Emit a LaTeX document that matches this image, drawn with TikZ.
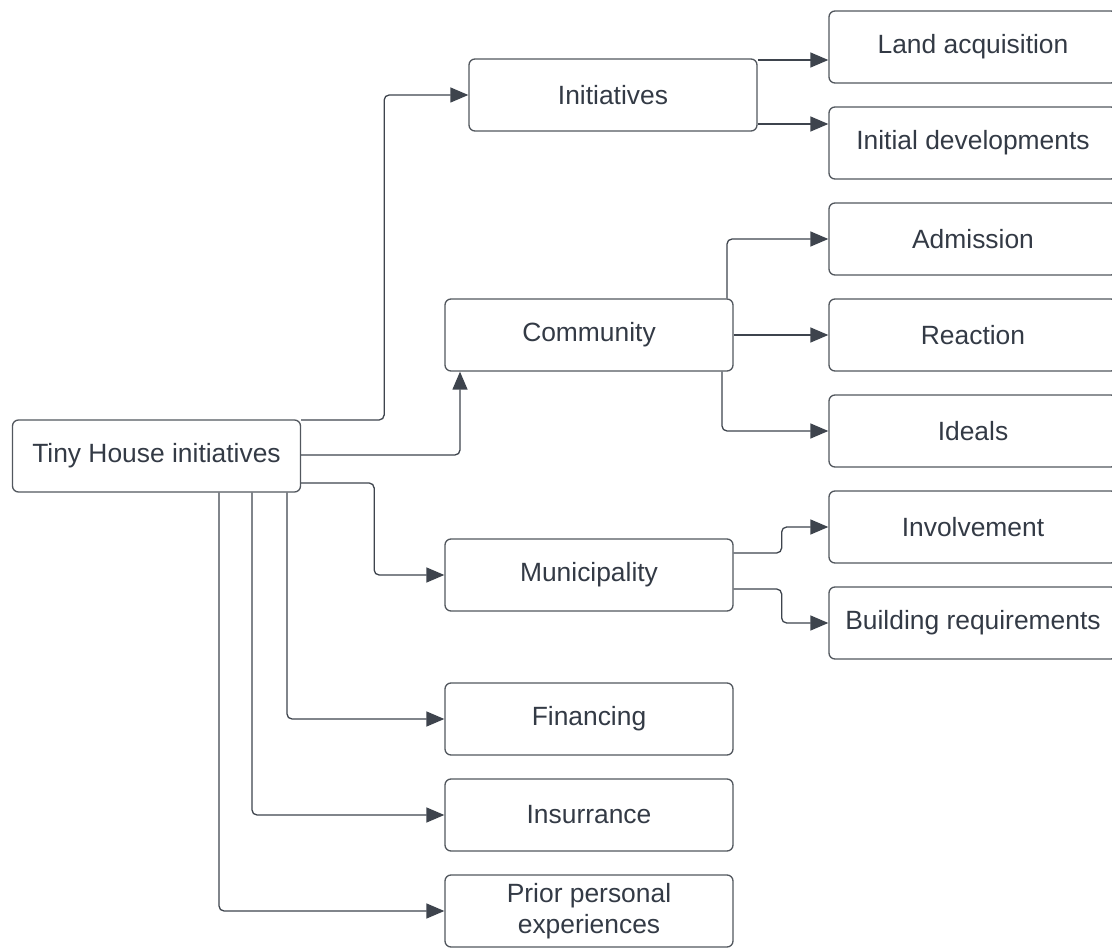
\documentclass[tikz,border=0pt]{standalone}
\usepackage{fontspec}
\setmainfont{Liberation Sans}
\usetikzlibrary{arrows.meta}

\definecolor{inkgray}{HTML}{333A45}
\definecolor{wiregray}{HTML}{3E444D}
\definecolor{framegray}{HTML}{52575E}

\begin{document}
\begin{tikzpicture}[
            x = 1pt, y = -1pt, % pixel grid, y downwards
            > = {Triangle[length=18pt, width=15pt]}, % arrow head style
            node distance = 96pt, % distance between stacked boxes
            box/.style = {
                draw = framegray,
                line width = 1.3pt,
                rounded corners = 6pt,
                minimum width = 288pt,
                minimum height = 72pt,
                inner sep = 0pt,
                align = center,
                text = inkgray,
                font = \fontsize{26.4}{31.5}\selectfont
            },
            link/.style = {
                ->,
                draw = wiregray,
                line width = 1.3pt,
                rounded corners = 5pt
            }
        ]

        \useasboundingbox (0,0) rectangle (1112,949);

	\node[box] (root) at (156.5,456) {Tiny House initiatives};

	% middle column
	\node[box] (init) at (613,95) {Initiatives};
	\node[box] (comm) at (589,335) {Community};
	\node[box] (muni) at (589,575) {Municipality};
	\node[box] (fin) at (589,719) {Financing};
	\node[box] (ins) [below of=fin] {Insurrance};
	\node[box] (prior) [below of=ins] {Prior personal\\experiences};

	% right column
	\node[box] (land) at (973,47) {Land acquisition};
	\node[box] (dev) [below of=land] {Initial developments};
	\node[box] (adm) [below of=dev] {Admission};
	\node[box] (reac) [below of=adm] {Reaction};
	\node[box] (ideal) [below of=reac] {Ideals};
	\node[box] (inv) [below of=ideal] {Involvement};
	\node[box] (build) [below of=inv] {Building requirements};

        \draw[link] ([yshift=36pt]root.east) -- ++(83,0) |- (init.west);
        \draw[link] ([yshift=1pt]root.east) -| ([xshift=-129pt]comm.south);
        \draw[link] ([yshift=-27pt]root.east) -- ++(73,0) |- (muni.west);
        \draw[link] ([xshift=130.5pt]root.south) |- (fin.west);
        \draw[link] ([xshift=95.5pt]root.south) |- (ins.west);
        \draw[link] ([xshift=62.5pt]root.south) |- (prior.west);

        \draw[link] ([yshift=35pt]init.east) -- ([yshift=35pt]init.east -| land.west);
        \draw[link] ([yshift=-29pt]init.east) -- ([yshift=-29pt]init.east -| dev.west);

        \draw[link] ([xshift=138pt]comm.north) |- (adm.west);
        \draw[link] (comm.east) -- (reac.west);
        \draw[link] ([xshift=133pt]comm.south) |- (ideal.west);

        \draw[link] ([yshift=22pt]muni.east) -- ++(48,0) |- (inv.west);
        \draw[link] ([yshift=-14pt]muni.east) -- ++(48,0) |- (build.west);

    \end{tikzpicture}
\end{document}
